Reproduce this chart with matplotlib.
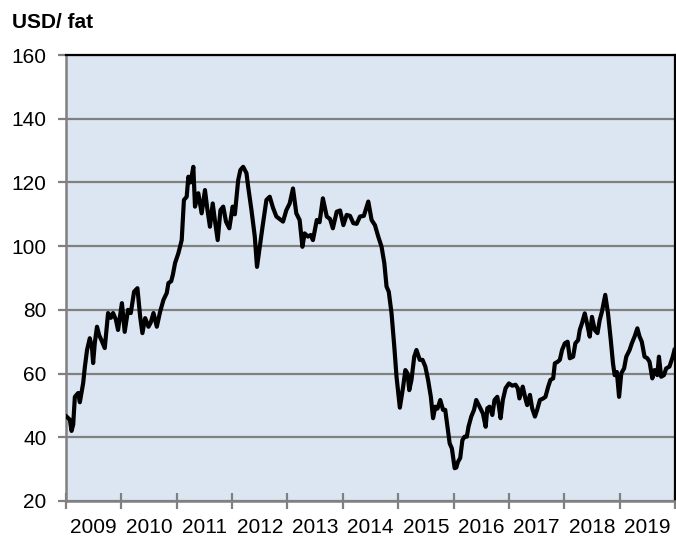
import numpy as np
import matplotlib.pyplot as plt
from matplotlib.ticker import FixedLocator, NullFormatter

plt.rcParams['font.family'] = ['Liberation Sans', 'DejaVu Sans']

BG_COLOR = '#dce6f2'
GRID_COLOR = '#808080'
LINE_COLOR = 'k'

# Oil price, USD per barrel (decimal year, price)
years = [
    2009.01, 2009.04, 2009.07, 2009.10, 2009.13, 2009.16, 2009.22, 2009.25, 2009.31, 2009.34,
    2009.38, 2009.43, 2009.47, 2009.49, 2009.52, 2009.56, 2009.60, 2009.64, 2009.70, 2009.76,
    2009.81, 2009.85, 2009.90, 2009.94, 2010.01, 2010.06, 2010.12, 2010.17, 2010.23, 2010.29,
    2010.34, 2010.38, 2010.43, 2010.49, 2010.53, 2010.58, 2010.64, 2010.70, 2010.76, 2010.82,
    2010.85, 2010.90, 2010.93, 2010.97, 2011.03, 2011.09, 2011.13, 2011.18, 2011.21, 2011.25,
    2011.30, 2011.33, 2011.39, 2011.45, 2011.51, 2011.55, 2011.60, 2011.65, 2011.69, 2011.74,
    2011.79, 2011.84, 2011.89, 2011.95, 2012.01, 2012.05, 2012.11, 2012.15, 2012.20, 2012.26,
    2012.29, 2012.35, 2012.41, 2012.45, 2012.50, 2012.55, 2012.62, 2012.68, 2012.74, 2012.80,
    2012.86, 2012.92, 2012.98, 2013.04, 2013.10, 2013.16, 2013.22, 2013.27, 2013.31, 2013.37,
    2013.42, 2013.46, 2013.53, 2013.58, 2013.64, 2013.71, 2013.77, 2013.82, 2013.89, 2013.95,
    2014.01, 2014.07, 2014.13, 2014.19, 2014.25, 2014.31, 2014.38, 2014.46, 2014.52, 2014.58,
    2014.64, 2014.70, 2014.75, 2014.79, 2014.83, 2014.88, 2014.93, 2014.97, 2015.03, 2015.09,
    2015.13, 2015.17, 2015.20, 2015.24, 2015.29, 2015.33, 2015.39, 2015.44, 2015.49, 2015.54,
    2015.59, 2015.63, 2015.67, 2015.71, 2015.76, 2015.81, 2015.85, 2015.89, 2015.93, 2015.97,
    2016.02, 2016.05, 2016.08, 2016.12, 2016.16, 2016.20, 2016.24, 2016.27, 2016.32, 2016.37,
    2016.41, 2016.47, 2016.53, 2016.58, 2016.61, 2016.65, 2016.70, 2016.74, 2016.79, 2016.82,
    2016.85, 2016.89, 2016.94, 2017.00, 2017.06, 2017.12, 2017.16, 2017.19, 2017.25, 2017.30,
    2017.33, 2017.38, 2017.42, 2017.47, 2017.51, 2017.56, 2017.62, 2017.66, 2017.71, 2017.75,
    2017.80, 2017.83, 2017.88, 2017.92, 2017.96, 2018.01, 2018.06, 2018.10, 2018.16, 2018.20,
    2018.25, 2018.28, 2018.32, 2018.37, 2018.42, 2018.46, 2018.50, 2018.55, 2018.60, 2018.64,
    2018.68, 2018.74, 2018.79, 2018.84, 2018.88, 2018.91, 2018.95, 2018.99, 2019.03, 2019.08,
    2019.12, 2019.18, 2019.22, 2019.27, 2019.32, 2019.36, 2019.40, 2019.45, 2019.50, 2019.54,
    2019.59, 2019.63, 2019.68, 2019.71, 2019.75, 2019.80, 2019.84, 2019.90, 2019.96, 2019.99,
]
price = [
    46.5, 46.0, 45.5, 42.0, 44.0, 52.7, 53.9, 51.0, 57.0, 62.0,
    67.4, 71.1, 68.0, 63.3, 69.6, 74.7, 72.0, 70.5, 68.0, 79.0,
    77.5, 79.0, 77.0, 73.7, 82.1, 73.1, 80.0, 79.0, 85.7, 86.8,
    77.8, 72.7, 77.4, 74.7, 76.0, 79.0, 74.7, 79.4, 83.1, 85.3,
    88.4, 89.0, 91.0, 94.7, 97.8, 101.9, 114.5, 115.5, 121.8, 120.0,
    124.9, 112.4, 116.6, 110.3, 117.6, 112.0, 106.1, 113.4, 108.0, 101.9,
    111.3, 112.4, 107.7, 105.6, 112.4, 110.0, 120.7, 123.9, 124.9, 122.9,
    118.7, 111.3, 103.0, 93.5, 99.8, 106.1, 114.5, 115.5, 112.0, 109.3,
    108.5, 107.7, 111.3, 113.4, 118.1, 110.3, 108.2, 99.8, 104.0, 103.0,
    103.5, 101.9, 108.2, 107.5, 115.0, 109.3, 108.5, 105.6, 110.8, 111.2,
    106.6, 109.8, 109.5, 107.2, 107.0, 109.3, 109.5, 114.0, 108.2, 106.6,
    103.0, 99.8, 94.6, 87.3, 85.7, 78.9, 68.4, 59.0, 49.3, 55.9,
    61.1, 60.0, 54.8, 58.0, 65.3, 67.4, 64.3, 64.3, 62.2, 58.0,
    52.7, 46.0, 49.6, 49.0, 51.7, 48.6, 48.6, 43.3, 38.1, 36.5,
    30.3, 30.5, 32.3, 33.5, 39.1, 40.2, 40.2, 43.3, 46.5, 48.6,
    51.7, 49.6, 47.5, 43.3, 49.1, 49.6, 47.0, 51.7, 52.7, 49.6,
    46.0, 51.7, 55.4, 56.9, 56.2, 56.5, 55.4, 52.2, 55.9, 52.0,
    50.1, 53.3, 49.1, 46.5, 48.6, 51.7, 52.2, 52.7, 55.9, 58.0,
    58.5, 63.2, 63.7, 64.3, 67.4, 69.5, 70.0, 64.8, 65.3, 69.5,
    70.5, 73.7, 75.8, 78.9, 75.0, 71.6, 77.8, 73.7, 72.7, 76.8,
    79.4, 84.7, 78.9, 70.5, 63.2, 59.5, 60.5, 52.7, 60.1, 61.6,
    65.3, 67.4, 69.5, 71.6, 74.2, 71.6, 70.0, 65.3, 64.8, 63.7,
    58.5, 61.1, 59.5, 65.3, 59.0, 59.5, 61.6, 62.2, 65.3, 67.4,
]

year_labels = [str(y) for y in range(2009, 2020)]
y_ticks = [20, 40, 60, 80, 100, 120, 140, 160]

fig = plt.figure(figsize=(6.76, 5.36), dpi=100)
ax = fig.add_axes([66 / 676, 35 / 536, 609 / 676, 446 / 536])
ax.set_facecolor(BG_COLOR)

# Horizontal grid
ax.yaxis.grid(True, color=GRID_COLOR, lw=1.6)
ax.set_axisbelow(True)

ax.plot(years, price, color=LINE_COLOR, lw=3.0, solid_joinstyle='round', zorder=3)

ax.set_xlim(2009, 2020)
ax.set_ylim(20, 160)
ax.set_yticks(y_ticks)
ax.tick_params(axis='y', direction='out', length=6, width=1.6, color=GRID_COLOR,
               pad=8, labelsize=15)

# Year ticks at boundaries, labels centered in each year
ax.xaxis.set_major_locator(FixedLocator(list(range(2009, 2021))))
ax.xaxis.set_major_formatter(NullFormatter())
ax.xaxis.set_minor_locator(FixedLocator([y + 0.5 for y in range(2009, 2020)]))
ax.set_xticklabels(year_labels, minor=True)
ax.tick_params(axis='x', which='major', direction='inout', length=12, width=1.6,
               color=GRID_COLOR)
ax.tick_params(axis='x', which='minor', length=0, pad=12, labelsize=15)

for side in ['left', 'bottom']:
    ax.spines[side].set_color(GRID_COLOR)
    ax.spines[side].set_linewidth(1.8)
for side in ['top', 'right']:
    ax.spines[side].set_color('k')
    ax.spines[side].set_linewidth(1.6)

fig.text(12 / 676, 1 - 13 / 536, 'USD/ fat', fontsize=15, fontweight='bold',
         ha='left', va='top')

fig.savefig('out.png', dpi=100)
